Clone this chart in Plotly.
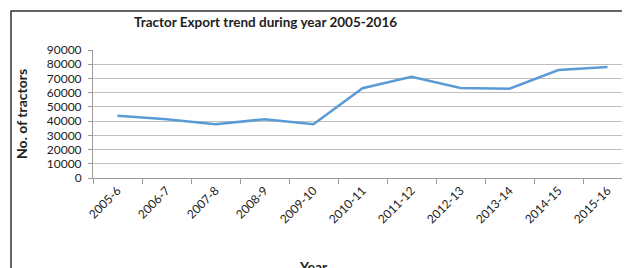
import plotly.graph_objects as go

years = ["2005-6", "2006-7", "2007-8", "2008-9", "2009-10", "2010-11",
         "2011-12", "2012-13", "2013-14", "2014-15", "2015-16"]
exports = [43800, 41300, 37800, 41300, 37800, 63100, 71200, 63300, 62800, 75900, 78000]
y_ticks = [0, 10000, 20000, 30000, 40000, 50000, 60000, 70000, 80000, 90000]

# page body has an 8px default margin; work in window pixels
OFF = 8
WIN_W, WIN_H = 630, 268
W, H = WIN_W - OFF, WIN_H - OFF
PL, PT, PB = 93, 50, 178          # plot area edges in window pixels
L = PL - OFF
T = PT - OFF
B = WIN_H - PB
R = 0
pw = W - L - R
ph = H - T - B
FONT = "Lato, Open Sans, sans-serif"

def px_x(x):
    return (x - PL) / pw

def px_y(y):
    return (PB - y) / ph

fig = go.Figure()
fig.add_trace(go.Scatter(
    x=years, y=exports, mode="lines",
    line=dict(color="#5b9bd5", width=2.5),
    hoverinfo="x+y", showlegend=False,
))

fig.update_layout(
    width=W, height=H,
    margin=dict(l=L, r=R, t=T, b=B, pad=0),
    paper_bgcolor="white", plot_bgcolor="white",
    font=dict(family=FONT, color="#222222"),
    xaxis=dict(
        type="category", range=[-0.5, -0.5 + pw / 49.0],
        showgrid=False, showline=True, linecolor="#9a9a9a", linewidth=1,
        ticks="outside", ticklen=5, tickcolor="#9a9a9a", tickson="boundaries",
        tickangle=-45, tickfont=dict(size=12, family=FONT, color="#222222"),
        zeroline=False,
    ),
    yaxis=dict(
        range=[0, 90000], tickvals=y_ticks, ticktext=[str(v) for v in y_ticks],
        showgrid=True, gridcolor="#bfbfbf", gridwidth=1,
        showline=True, linecolor="#9a9a9a", linewidth=1,
        ticks="outside", ticklen=4, tickcolor="#9a9a9a",
        tickfont=dict(size=12, family=FONT, color="#222222"),
        zeroline=False, ticklabelstandoff=4,
    ),
    annotations=[
        dict(text="<b>Tractor Export trend during year 2005-2016</b>",
             xref="paper", yref="paper", x=px_x(265), y=px_y(22),
             xanchor="center", yanchor="middle", showarrow=False,
             font=dict(size=13.5, family=FONT, color="#222222")),
        dict(text="<b>No. of tractors</b>", textangle=-90,
             xref="paper", yref="paper", x=px_x(21), y=px_y(114),
             xanchor="center", yanchor="middle", showarrow=False,
             font=dict(size=14, family=FONT, color="#222222")),
        dict(text="<b>Year</b>",
             xref="paper", yref="paper", x=px_x(313), y=px_y(256),
             xanchor="center", yanchor="top", showarrow=False,
             font=dict(size=14, family=FONT, color="#222222")),
    ],
    shapes=[
        dict(type="rect", xref="paper", yref="paper",
             x0=px_x(11), x1=px_x(WIN_W + 20), y0=px_y(WIN_H + 20), y1=px_y(11),
             line=dict(color="#333333", width=1.5), fillcolor="rgba(0,0,0,0)",
             layer="below"),
    ],
)

fig.write_html("out.html")
